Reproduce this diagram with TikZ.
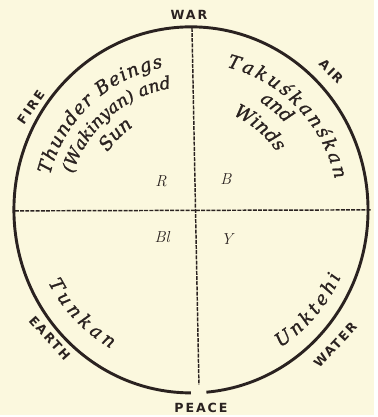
\documentclass[tikz,border=0pt]{standalone}
\usepackage{fontspec}
\newfontfamily\capsfont[LetterSpace=15]{DejaVu Sans}
\newfontfamily\spiritfont[FakeBold=1.2]{DejaVu Serif}
\usetikzlibrary{decorations.text}
\definecolor{paper}{HTML}{FBF8DE}
\definecolor{ink}{HTML}{2A2220}
\newcommand\arcfont{\spiritfont\itshape\fontsize{14}{14}\selectfont}
\newcommand\arcsmall{\spiritfont\itshape\fontsize{13}{13}\selectfont}
\tikzset{
  quarter/.style={ink, line width=1.1pt, dash pattern=on 3pt off 0.9pt},
  wind/.style={font=\capsfont\bfseries\fontsize{9.5}{9.5}\selectfont, text=ink},
  hue/.style={font=\fontsize{12}{12}\selectfont\itshape, text=ink},
}
% clockwise arc text, tops outward
\newcommand\upperarc[4]{%
  \path[decorate, decoration={text along path, text color=ink,
    text align={fit to path}, text={|\arcfont|#4}}]
    (#1:#3) arc[start angle=#1, end angle=#2, radius=#3];}
\newcommand\uppermid[4][\arcfont]{%
  \path[decorate, decoration={text along path, text color=ink,
    text align=center, text={|#1|#4}}]
    (#2+45:#3) arc[start angle=#2+45, end angle=#2-45, radius=#3];}
% counterclockwise arc text, tops inward
\newcommand\lowerarc[4]{%
  \path[decorate, decoration={text along path, text color=ink,
    text align={fit to path}, text={|\arcfont|#4}}]
    (#1:#3) arc[start angle=#1, end angle=#2, radius=#3];}
\begin{document}
\begin{tikzpicture}[x=0.75pt, y=0.75pt]
  \fill[paper] (-192,-206) rectangle (184,211);
  \coordinate (war) at (1,183);
  \coordinate (peace) at (8,-176);
  \coordinate (west) at (-177,-1);
  \coordinate (east) at (181,0);
  \draw[ink, line width=2.2pt] (275:178 and 184)
    arc[start angle=275, end angle=630, x radius=178, y radius=184];
  \draw[quarter] (war) -- (peace);
  \draw[quarter] (west) -- (east);
  \node[wind] (warlabel) at (-2,196) {WAR};
  \node[wind] (peacelabel) at (10,-199) {PEACE};
  \node[wind, rotate=55] (firelabel) at (-161,103) {FIRE};
  \node[wind, rotate=-45] (airlabel) at (141,139) {AIR};
  \node[wind, rotate=-48] (earthlabel) at (-142,-129) {EARTH};
  \node[wind, rotate=47] (waterlabel) at (145,-136) {WATER};
  \upperarc{166}{101}{146}{Thunder Beings}
  \uppermid[\arcsmall]{131}{124}{(Wakinyan) and}
  \uppermid{135}{102}{Sun}
  \upperarc{76}{12}{148}{Takuśkanśkan}
  \uppermid{50}{129}{and}
  \uppermid{50}{104}{Winds}
  \lowerarc{207}{240}{161}{Tunkan}
  \lowerarc{303}{336}{165}{Unktehi}
  \node[hue] (red) at (-30,29) {R};
  \node[hue] (blue) at (35,31) {B};
  \node[hue] (black) at (-29,-27) {Bl};
  \node[hue] (yellow) at (36,-29) {Y};
\end{tikzpicture}
\end{document}
